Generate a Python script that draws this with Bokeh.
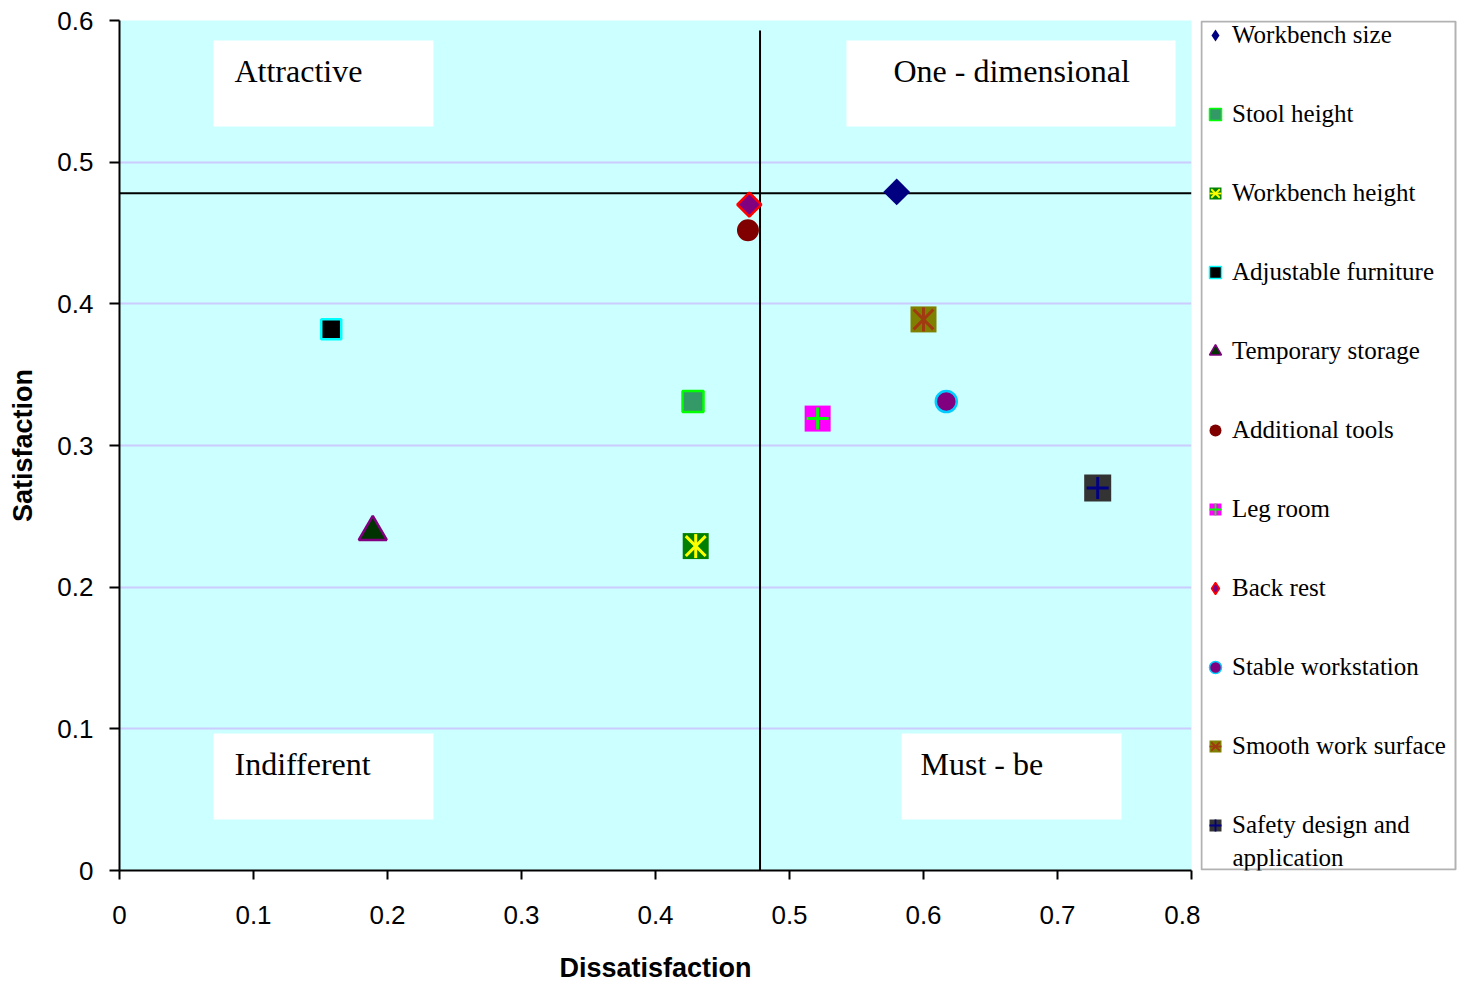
import math

from bokeh.embed import file_html
from bokeh.layouts import row
from bokeh.models import (BoxAnnotation, FixedTicker, Label, Legend,
                          LegendItem, Range1d)
from bokeh.plotting import figure
from bokeh.resources import INLINE

# ---- data -------------------------------------------------------------
attributes = [
    "Workbench size",
    "Stool height",
    "Workbench height",
    "Adjustable furniture",
    "Temporary storage",
    "Additional tools",
    "Leg room",
    "Back rest",
    "Stable workstation",
    "Smooth work surface",
    "Safety design and\napplication",
]
dissatisfaction = [0.580, 0.428, 0.430, 0.158, 0.189, 0.469, 0.521, 0.470, 0.617, 0.600, 0.730]
satisfaction = [0.479, 0.331, 0.229, 0.382, 0.239, 0.452, 0.319, 0.470, 0.331, 0.389, 0.270]

# quadrant dividers (mean dissatisfaction / satisfaction)
mean_dissatisfaction = 0.478
mean_satisfaction = 0.478

x_ticks = [0, 0.1, 0.2, 0.3, 0.4, 0.5, 0.6, 0.7, 0.8]
x_tick_labels = ["0", "0.1", "0.2", "0.3", "0.4", "0.5", "0.6", "0.7", "0.8"]
y_ticks = [0, 0.1, 0.2, 0.3, 0.4, 0.5, 0.6]
y_tick_labels = ["0", "0.1", "0.2", "0.3", "0.4", "0.5", "0.6"]

quadrant_names = ["Attractive", "One - dimensional", "Indifferent", "Must - be"]

# ---- styles -----------------------------------------------------------
# base marker: (marker, size, angle, fill, outline, outline width)
# overlays:    list of (marker, size, angle, colour, width)
D45 = math.pi / 4
V90 = math.pi / 2
styles = [
    (("square", 19, D45, "#000080", None, 0), []),
    (("square", 21, 0, "#339966", "#00FF00", 2.5), []),
    (("square", 26, 0, "#008000", None, 0), [("x", 28, 0, "#FFFF00", 3), ("dash", 24, V90, "#FFFF00", 3)]),
    (("square", 20, 0, "#000000", "#00FFFF", 2.5), []),
    (("triangle", 28, 0, "#003300", "#800080", 2.5), []),
    (("circle", 22, 0, "#800000", None, 0), []),
    (("square", 26, 0, "#FF00FF", None, 0), [("cross", 22, 0, "#00FF00", 3)]),
    (("square", 17, D45, "#800080", "#FF0000", 2.5), []),
    (("circle", 21, 0, "#800080", "#00CCFF", 2.5), []),
    (("square", 26, 0, "#808000", None, 0), [("x", 28, 0, "#A03A10", 3), ("dash", 24, V90, "#A03A10", 3)]),
    (("square", 27, 0, "#333333", None, 0), [("cross", 22, 0, "#000080", 3)]),
]

SANS = "Liberation Sans"
SERIF = "Liberation Serif"


def draw_points(fig, line_scale=1.0, swatch=False):
    """Scatter every attribute (base marker plus overlays); returns legend items."""
    items = []
    for name, xv, yv, (base, overlays) in zip(attributes, dissatisfaction, satisfaction, styles):
        marker, size, angle, fill, outline, lw = base
        if swatch and angle:
            # legend swatches ignore the angle, so use the diamond marker there
            marker, angle = "diamond", 0
        rends = [fig.scatter([xv], [yv], marker=marker, size=size, angle=angle,
                             fill_color=fill, line_color=outline, line_width=lw * line_scale)]
        for om, osize, oangle, ocol, ow in overlays:
            rends.append(fig.scatter([xv], [yv], marker=om, size=osize, angle=oangle,
                                     line_color=ocol, line_width=ow * line_scale,
                                     fill_color=None))
        items.append(LegendItem(label=name.split("\n")[0], renderers=rends))
    return items


# ---- main scatter -----------------------------------------------------
p = figure(
    x_range=Range1d(0, 0.8), y_range=Range1d(0, 0.6),
    frame_width=1072, frame_height=850,
    min_border_left=119, min_border_right=9,
    min_border_top=20, min_border_bottom=115,
    output_backend="svg", toolbar_location=None,
    background_fill_color="#CCFFFF", border_fill_color="white",
    outline_line_color=None,
)

for ax in (p.xaxis[0], p.yaxis[0]):
    ax.axis_line_color = "black"
    ax.axis_line_width = 2
    ax.major_tick_line_color = "black"
    ax.major_tick_line_width = 2
    ax.major_tick_in = 0
    ax.minor_tick_line_color = None
    ax.major_label_text_font = SANS
    ax.major_label_text_font_size = "26px"
    ax.major_label_text_color = "black"
    ax.axis_label_text_font = SANS
    ax.axis_label_text_font_size = "27px"
    ax.axis_label_text_font_style = "bold"
    ax.axis_label_text_color = "black"

p.xaxis.ticker = FixedTicker(ticks=x_ticks)
p.xaxis.major_label_overrides = dict(zip(x_ticks, x_tick_labels))
p.xaxis.major_tick_out = 9
p.xaxis.major_label_standoff = 26
p.xaxis.axis_label = "Dissatisfaction"
p.xaxis.axis_label_standoff = 26

p.yaxis.ticker = FixedTicker(ticks=y_ticks)
p.yaxis.major_label_overrides = dict(zip(y_ticks, y_tick_labels))
p.yaxis.major_tick_out = 10
p.yaxis.major_label_standoff = 16
p.yaxis.axis_label = "Satisfaction"
p.yaxis.axis_label_standoff = 16

p.xgrid.grid_line_color = None
p.ygrid.ticker = FixedTicker(ticks=y_ticks)
p.ygrid.grid_line_color = "#CCCCFF"
p.ygrid.grid_line_width = 2

# quadrant name boxes (data units)
quadrant_boxes = [
    (0.0701, 0.2343, 0.5252, 0.5859, 0.0858, 0.5647),
    (0.5425, 0.7881, 0.5252, 0.5859, 0.5776, 0.5647),
    (0.0701, 0.2343, 0.0360, 0.0967, 0.0858, 0.0755),
    (0.5836, 0.7478, 0.0360, 0.0967, 0.5978, 0.0755),
]
for name, (l, r, b, t, tx, ty) in zip(quadrant_names, quadrant_boxes):
    p.add_layout(BoxAnnotation(left=l, right=r, bottom=b, top=t,
                               fill_color="white", fill_alpha=1.0,
                               line_color=None, level="underlay"))
    p.add_layout(Label(x=tx, y=ty, text=name, text_font=SERIF,
                       text_font_size="32px", text_color="black",
                       text_baseline="middle", text_align="left"))

p.line([mean_dissatisfaction, mean_dissatisfaction], [0, 0.593],
       line_color="black", line_width=2)
p.line([0, 0.8], [mean_satisfaction, mean_satisfaction],
       line_color="black", line_width=2)

draw_points(p)

# ---- legend panel -----------------------------------------------------
# Pixel-scaled panel (1 unit = 1 px, offset by 1000 so the swatch
# renderers' own points fall outside the visible area).
OFF = 1000
lg = figure(
    title=None,
    width=258, height=985,
    x_range=Range1d(OFF, OFF + 258), y_range=Range1d(OFF, OFF + 850),
    min_border_left=0, min_border_top=20, min_border_right=0, min_border_bottom=115,
    x_axis_type=None, y_axis_type=None,
    output_backend="svg", toolbar_location=None,
    background_fill_color="white", border_fill_color="white",
    outline_line_color=None,
)
lg.grid.visible = False

# legend frame
lg.add_layout(BoxAnnotation(left=OFF + 1, right=OFF + 255, bottom=OFF + 1, top=OFF + 849,
                            fill_color="white", fill_alpha=1.0,
                            line_color="black", line_width=2, level="underlay"))

legend_items = draw_points(lg, line_scale=0.6, swatch=True)

legend = Legend(
    items=legend_items, location="top_left",
    padding=0, spacing=49, margin=0,
    glyph_width=30, glyph_height=30, label_standoff=2,
    label_text_font=SERIF, label_text_font_size="25px", label_text_color="black",
    label_height=30,
    border_line_color=None,
    background_fill_alpha=0.0,
)
lg.add_layout(legend, "center")

# continuation line of the last (two-line) legend entry
for extra in attributes[-1].split("\n")[1:]:
    lg.add_layout(Label(x=OFF + 32, y=OFF + 13, text=extra, text_font=SERIF,
                        text_font_size="25px", text_color="black",
                        text_baseline="middle", text_align="left"))

layout = row(p, lg, spacing=0)
open("out.html", "w").write(file_html(layout, INLINE))
